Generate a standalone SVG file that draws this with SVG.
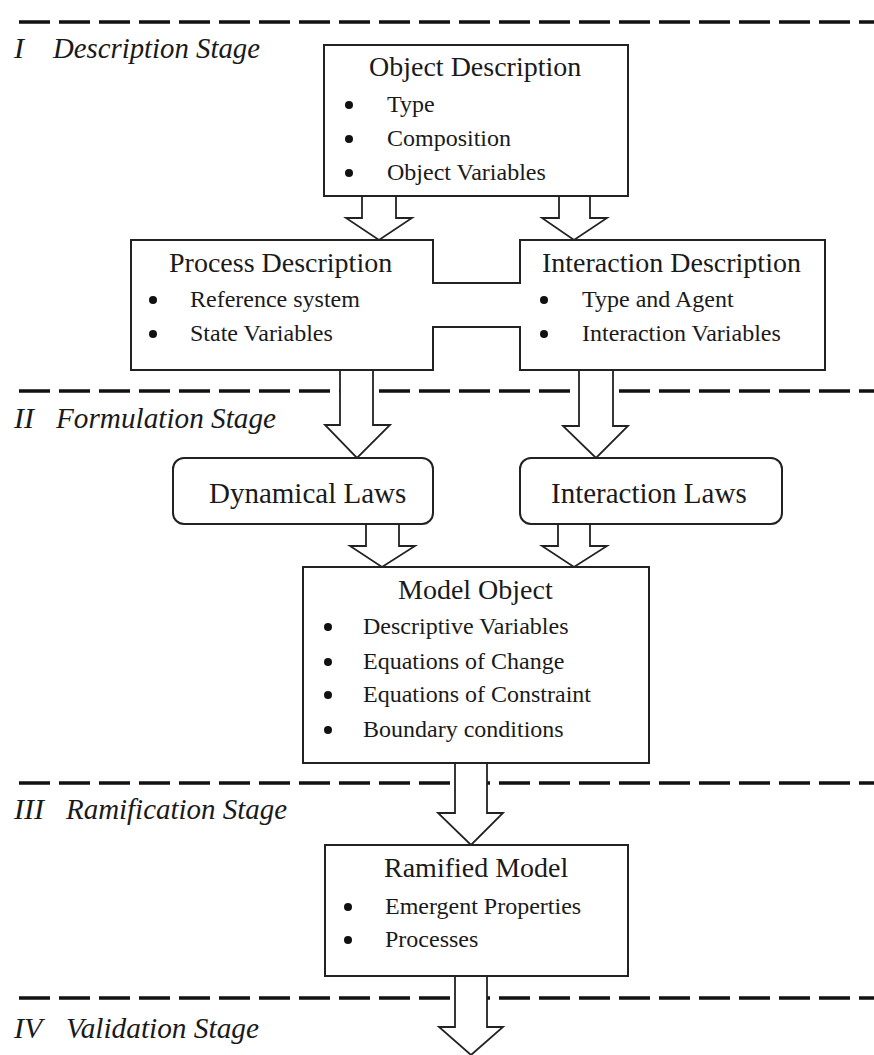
<svg xmlns="http://www.w3.org/2000/svg" width="874" height="1055" viewBox="0 0 874 1055">
  <style>
    .stage { stroke: #111; stroke-width: 3.5; stroke-dasharray: 31 9; fill: none; }
    .box { fill: #fff; stroke: #222; stroke-width: 2; }
    .arrow { fill: #fff; stroke: #222; stroke-width: 1.8; stroke-linejoin: miter; }
    .label { font-family: "Liberation Serif", "Times New Roman", serif; font-style: italic; font-size: 30px; fill: #1a1a1a; }
    .title { font-family: "Liberation Serif", "Times New Roman", serif; font-size: 28px; fill: #1a1a1a; }
    .law { font-family: "Liberation Serif", "Times New Roman", serif; font-size: 29px; fill: #1a1a1a; }
    .item { font-family: "Liberation Serif", "Times New Roman", serif; font-size: 24px; fill: #1a1a1a; }
    .dot { fill: #111; }
  </style>

  <rect width="874" height="1055" fill="#fff"/>

  <!-- stage separators and stage names -->
  <g id="stages">
    <line class="stage" x1="19" y1="22" x2="874" y2="22"/>
    <line class="stage" x1="19" y1="391" x2="874" y2="391"/>
    <line class="stage" x1="19" y1="783" x2="874" y2="783"/>
    <line class="stage" x1="19" y1="998" x2="874" y2="998"/>
    <text class="label" x="14" y="58">I</text>
    <text class="label" x="53" y="58" textLength="207" lengthAdjust="spacingAndGlyphs">Description Stage</text>
    <text class="label" x="14" y="428">II</text>
    <text class="label" x="56" y="428" textLength="220" lengthAdjust="spacingAndGlyphs">Formulation Stage</text>
    <text class="label" x="14" y="819">III</text>
    <text class="label" x="66" y="819" textLength="221" lengthAdjust="spacingAndGlyphs">Ramification Stage</text>
    <text class="label" x="14" y="1038">IV</text>
    <text class="label" x="66" y="1038" textLength="193" lengthAdjust="spacingAndGlyphs">Validation Stage</text>
  </g>

  <!-- block arrows between stages -->
  <g id="connectors">
    <polygon class="arrow" points="362,196 396,196 396,218 412,218 379,240 346,218 362,218"/>
    <polygon class="arrow" points="559,196 590,196 590,218 607,218 574,240 542,218 559,218"/>
    <polygon class="arrow" points="340,370 373,370 373,425 390,425 357,458 325,425 340,425"/>
    <polygon class="arrow" points="579,370 613,370 613,426 628,426 596,458 563,426 579,426"/>
    <polygon class="arrow" points="366,524 399,524 399,546 415,546 382,567 350,546 366,546"/>
    <polygon class="arrow" points="558,524 590,524 590,546 607,546 574,567 542,546 558,546"/>
    <polygon class="arrow" points="455,763 487,763 487,813 503,813 471,845 438,813 455,813"/>
    <polygon class="arrow" points="455,976 487,976 487,1027 503,1027 471,1055 439,1027 455,1027"/>
  </g>

  <g id="object-description">
    <rect class="box" x="324" y="45" width="304" height="151"/>
    <text class="title" x="369" y="76">Object Description</text>
    <circle class="dot" cx="349" cy="105" r="4"/>
    <text class="item" x="387" y="112">Type</text>
    <circle class="dot" cx="349" cy="139" r="4"/>
    <text class="item" x="387" y="146">Composition</text>
    <circle class="dot" cx="349" cy="173" r="4"/>
    <text class="item" x="387" y="180">Object Variables</text>
  </g>

  <!-- process and interaction descriptions share one outline joined by a bridge -->
  <g id="process-interaction-outline">
    <path class="box" d="M131,240 H433 V283 H520 V240 H825 V370 H520 V327 H433 V370 H131 Z"/>
  </g>

  <g id="process-description">
    <text class="title" x="169" y="272">Process Description</text>
    <circle class="dot" cx="153" cy="300" r="4"/>
    <text class="item" x="190" y="307">Reference system</text>
    <circle class="dot" cx="153" cy="334" r="4"/>
    <text class="item" x="190" y="341">State Variables</text>
  </g>

  <g id="interaction-description">
    <text class="title" x="542" y="272">Interaction Description</text>
    <circle class="dot" cx="544" cy="300" r="4"/>
    <text class="item" x="582" y="307">Type and Agent</text>
    <circle class="dot" cx="544" cy="334" r="4"/>
    <text class="item" x="582" y="341">Interaction Variables</text>
  </g>

  <g id="dynamical-laws">
    <rect class="box" x="173" y="458" width="260" height="66" rx="11"/>
    <text class="law" x="209" y="503">Dynamical Laws</text>
  </g>

  <g id="interaction-laws">
    <rect class="box" x="520" y="458" width="262" height="66" rx="11"/>
    <text class="law" x="551" y="503">Interaction Laws</text>
  </g>

  <g id="model-object">
    <rect class="box" x="303" y="567" width="346" height="196"/>
    <text class="title" x="398" y="599">Model Object</text>
    <circle class="dot" cx="328" cy="627" r="4"/>
    <text class="item" x="363" y="634">Descriptive Variables</text>
    <circle class="dot" cx="328" cy="662" r="4"/>
    <text class="item" x="363" y="669">Equations of Change</text>
    <circle class="dot" cx="328" cy="695" r="4"/>
    <text class="item" x="363" y="702">Equations of Constraint</text>
    <circle class="dot" cx="328" cy="730" r="4"/>
    <text class="item" x="363" y="737">Boundary conditions</text>
  </g>

  <g id="ramified-model">
    <rect class="box" x="325" y="845" width="303" height="131"/>
    <text class="title" x="384" y="877">Ramified Model</text>
    <circle class="dot" cx="348" cy="907" r="4"/>
    <text class="item" x="385" y="914">Emergent Properties</text>
    <circle class="dot" cx="348" cy="940" r="4"/>
    <text class="item" x="385" y="947">Processes</text>
  </g>
</svg>
